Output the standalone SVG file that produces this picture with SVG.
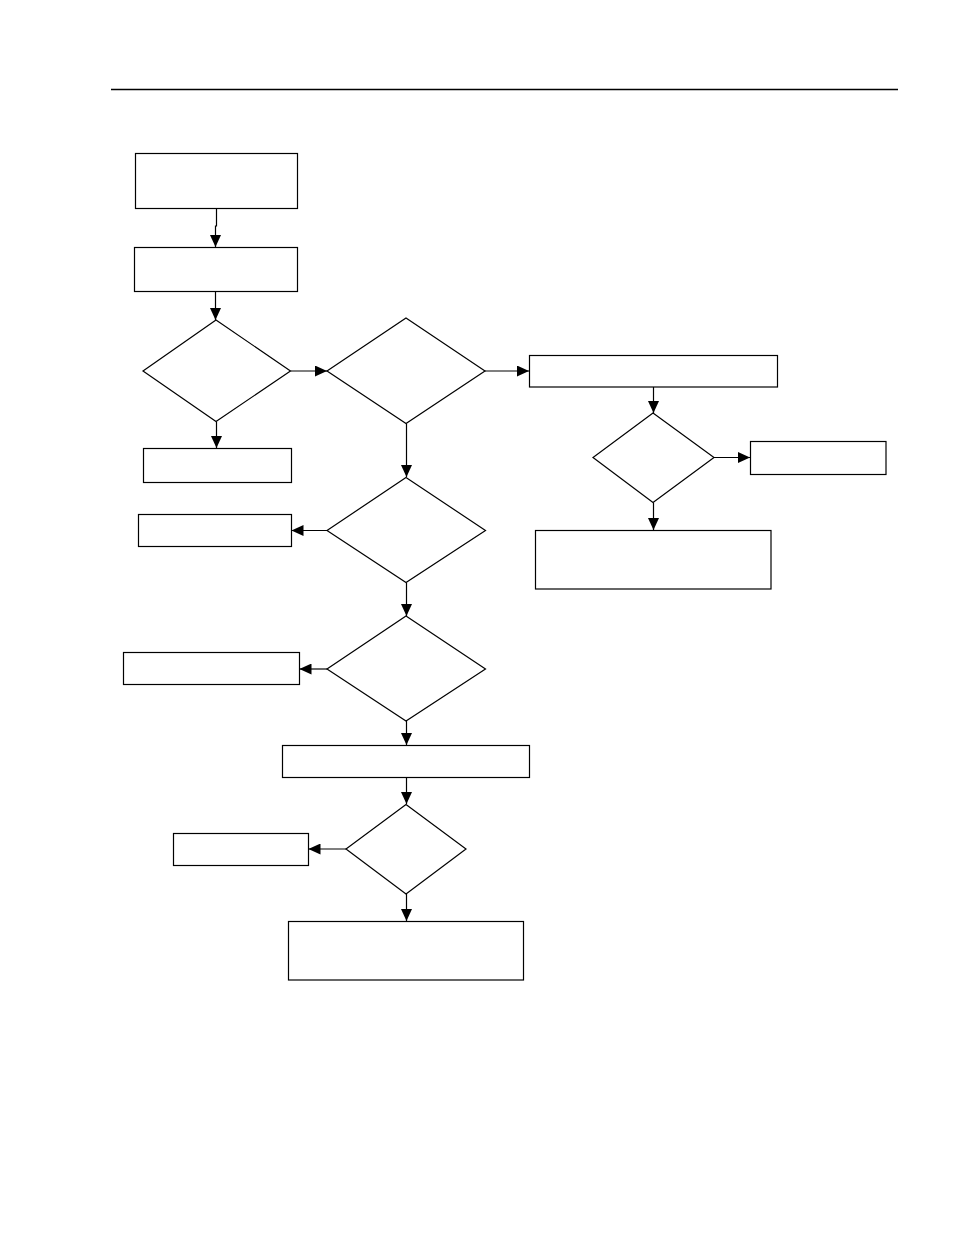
<svg xmlns="http://www.w3.org/2000/svg" width="954" height="1235" viewBox="0 0 954 1235">
<style>
.n{fill:#fff;stroke:#000;stroke-width:1.2}
.c{fill:none;stroke:#000;stroke-width:1.2}
</style>
<defs>
<marker id="ah" markerUnits="userSpaceOnUse" markerWidth="12" markerHeight="11" refX="12" refY="5.5" orient="auto">
<path d="M0,0 L12,5.5 L0,11 Z" fill="#000"/>
</marker>
</defs>
<rect width="954" height="1235" fill="#fff"/>
<line x1="111" y1="89.5" x2="898" y2="89.5" stroke="#000" stroke-width="1.4"/>
<g id="box1"><rect class="n" x="135.5" y="153.5" width="162" height="55"/></g>
<g id="box2"><rect class="n" x="134.5" y="247.5" width="163" height="44"/></g>
<g id="dec1"><polygon class="n" points="216,320 290.5,371 216,421.5 143,371"/></g>
<g id="dec2"><polygon class="n" points="406,318 485,371 406,423.5 327,371"/></g>
<g id="box3"><rect class="n" x="529.5" y="355.5" width="248" height="31.5"/></g>
<g id="dec3"><polygon class="n" points="653,413 714,457.5 653,502.5 593,457.5"/></g>
<g id="box4"><rect class="n" x="750.5" y="441.5" width="135.5" height="33"/></g>
<g id="box5"><rect class="n" x="535.5" y="530.5" width="235.5" height="58.5"/></g>
<g id="box6"><rect class="n" x="143.5" y="448.5" width="148" height="34"/></g>
<g id="dec4"><polygon class="n" points="406,477.5 485.5,530.5 406,582.5 327,530.5"/></g>
<g id="box7"><rect class="n" x="138.5" y="514.5" width="153" height="32"/></g>
<g id="dec5"><polygon class="n" points="406,616 485.5,669 406,721 327,669"/></g>
<g id="box8"><rect class="n" x="123.5" y="652.5" width="176" height="32"/></g>
<g id="box9"><rect class="n" x="282.5" y="745.5" width="247" height="32"/></g>
<g id="dec6"><polygon class="n" points="406,804.5 466,849 406,894 346,849"/></g>
<g id="box10"><rect class="n" x="173.5" y="833.5" width="135" height="32"/></g>
<g id="box11"><rect class="n" x="288.5" y="921.5" width="235" height="58.5"/></g>
<g id="connectors">
<path class="c" d="M216.5,208.5 V226 H215.5 V247" marker-end="url(#ah)"/>
<path class="c" d="M215.5,291.5 V320" marker-end="url(#ah)"/>
<path class="c" d="M290.5,371 H327" marker-end="url(#ah)"/>
<path class="c" d="M485,371 H529" marker-end="url(#ah)"/>
<path class="c" d="M653.5,387 V413" marker-end="url(#ah)"/>
<path class="c" d="M714,457.5 H750" marker-end="url(#ah)"/>
<path class="c" d="M653.5,502.5 V530" marker-end="url(#ah)"/>
<path class="c" d="M216.5,421.5 V448" marker-end="url(#ah)"/>
<path class="c" d="M406.5,423.5 V477" marker-end="url(#ah)"/>
<path class="c" d="M327,530.5 H291.5" marker-end="url(#ah)"/>
<path class="c" d="M406.5,582.5 V616" marker-end="url(#ah)"/>
<path class="c" d="M327,669 H299.5" marker-end="url(#ah)"/>
<path class="c" d="M406.5,721 V745" marker-end="url(#ah)"/>
<path class="c" d="M406.5,777.5 V804" marker-end="url(#ah)"/>
<path class="c" d="M346,849 H308.5" marker-end="url(#ah)"/>
<path class="c" d="M406.5,894 V921" marker-end="url(#ah)"/>
</g>
</svg>
